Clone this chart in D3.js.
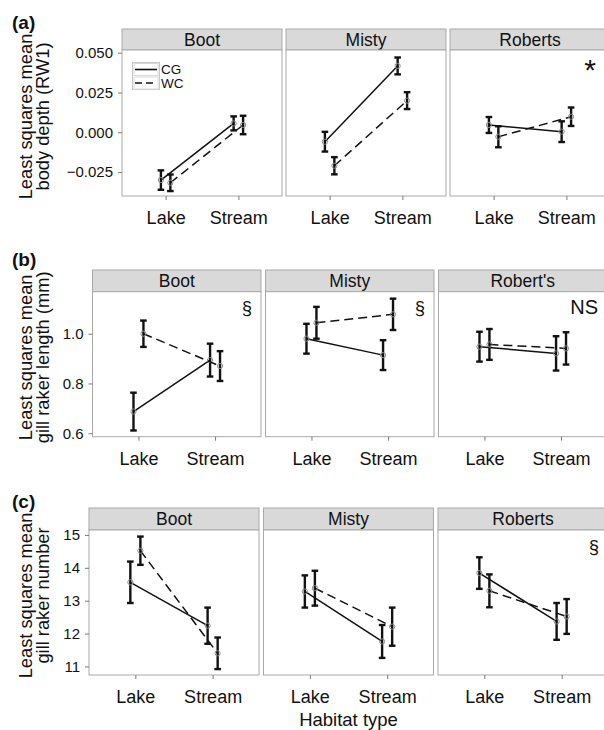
<!DOCTYPE html>
<html><head><meta charset="utf-8">
<script src="https://cdn.jsdelivr.net/npm/d3@7"></script>
<style>body{margin:0;background:#fff;} svg{display:block;font-family:"Liberation Sans",Arial,sans-serif;}</style>
</head><body><svg id="c" width="604" height="730"></svg>
<script>
const lakes = ["Boot", "Misty", "Roberts"];
const habitats = ["Lake", "Stream"];
const groups = ["CG", "WC"];
const depthStrips = ["Boot", "Misty", "Roberts"];
const lengthStrips = ["Boot", "Misty", "Robert's"];
const numberStrips = ["Boot", "Misty", "Roberts"];

// order: Boot-Lake, Boot-Stream, Misty-Lake, Misty-Stream, Roberts-Lake, Roberts-Stream
const depthCGMean = [-0.0300, 0.0056, -0.0059, 0.0417, 0.0046, 0.0004];
const depthCGErr  = [0.0061, 0.0044, 0.0062, 0.0053, 0.0050, 0.0065];
const depthWCMean = [-0.0317, 0.0046, -0.0210, 0.0199, -0.0028, 0.0098];
const depthWCErr  = [0.0052, 0.0058, 0.0054, 0.0053, 0.0066, 0.0058];

const lengthCGMean = [0.687, 0.894, 0.980, 0.914, 0.948, 0.921];
const lengthCGErr  = [0.076, 0.066, 0.060, 0.060, 0.060, 0.069];
const lengthWCMean = [1.000, 0.870, 1.044, 1.078, 0.957, 0.941];
const lengthWCErr  = [0.053, 0.060, 0.064, 0.063, 0.062, 0.065];

const numberCGMean = [13.56, 12.24, 13.28, 11.76, 13.84, 12.37];
const numberCGErr  = [0.63, 0.55, 0.49, 0.50, 0.48, 0.56];
const numberWCMean = [14.52, 11.40, 13.38, 12.21, 13.30, 12.52];
const numberWCErr  = [0.43, 0.48, 0.53, 0.58, 0.50, 0.53];

const depthTicks = [-0.025, 0, 0.025, 0.05];
const lengthTicks = [0.6, 0.8, 1.0];
const numberTicks = [11, 12, 13, 14, 15];
const depthSig = ["", "", "*"];
const lengthSig = ["§", "§", "NS"];
const numberSig = ["", "", "§"];

const rows = [
  {tag: "(a)", tagY: 29, strips: depthStrips, cg: [depthCGMean, depthCGErr], wc: [depthWCMean, depthWCErr],
   domain: [-0.0400, 0.0517], ticks: depthTicks, fmt: d3.format(".3f"), sig: depthSig,
   title: ["Least squares mean", "body depth (RW1)"], legend: true,
   left: 122, width: 160, gap: 4, stripTop: 29, top: 50, bottom: 196},
  {tag: "(b)", tagY: 266, strips: lengthStrips, cg: [lengthCGMean, lengthCGErr], wc: [lengthWCMean, lengthWCErr],
   domain: [0.586, 1.169], ticks: lengthTicks, fmt: d3.format(".1f"), sig: lengthSig,
   title: ["Least squares mean", "gill raker length (mm)"], legend: false,
   left: 92.5, width: 168.5, gap: 4.5, stripTop: 270, top: 291.7, bottom: 436.7},
  {tag: "(c)", tagY: 508, strips: numberStrips, cg: [numberCGMean, numberCGErr], wc: [numberWCMean, numberWCErr],
   domain: [10.74, 15.15], ticks: numberTicks, fmt: d3.format("d"), sig: numberSig,
   title: ["Least squares mean", "gill raker number"], legend: false,
   left: 89, width: 170, gap: 4.5, stripTop: 508, top: 530, bottom: 675}
];

const svg = d3.select("#c");
const ink = "#111";
const frame = "#a9a9a9";

rows.forEach(row => {
  const g = svg.append("g");
  const y = d3.scaleLinear().domain(row.domain).range([row.bottom, row.top]);

  // panel tag
  g.append("text").attr("x", 12).attr("y", row.tagY).attr("font-size", 19).attr("font-weight", "bold")
    .attr("fill", ink).text(row.tag);

  // y title
  const cy = (row.stripTop + row.bottom) / 2 + 4;
  row.title.forEach((t, k) => {
    g.append("text").attr("transform", `translate(${31.5 + k * 17},${cy}) rotate(-90)`)
      .attr("text-anchor", "middle").attr("font-size", 18.3).attr("fill", ink).text(t);
  });

  lakes.forEach((lake, i) => {
    const x0 = row.left + i * (row.width + row.gap), x1 = x0 + row.width;
    const x = d3.scalePoint().domain(habitats).range([x0, x1]).padding(0.6);
    const off = 0.065 * x.step();
    const pg = g.append("g");

    // strip
    pg.append("rect").attr("x", x0).attr("y", row.stripTop).attr("width", row.width)
      .attr("height", row.top - row.stripTop).attr("fill", "#d9d9d9").attr("stroke", frame).attr("stroke-width", 1);
    pg.append("text").attr("x", (x0 + x1) / 2).attr("y", (row.stripTop + row.top) / 2 + 6)
      .attr("text-anchor", "middle").attr("font-size", 17.5).attr("fill", ink).text(row.strips[i]);
    // panel
    pg.append("rect").attr("x", x0).attr("y", row.top).attr("width", row.width)
      .attr("height", row.bottom - row.top).attr("fill", "#fff").attr("stroke", frame).attr("stroke-width", 1);

    // x axis
    const xa = pg.append("g").attr("transform", `translate(0,${row.bottom})`)
      .call(d3.axisBottom(x).tickSize(4).tickPadding(11.2));
    xa.select(".domain").remove();
    xa.selectAll("line").attr("stroke", "#7a7a7a");
    xa.selectAll("text").attr("font-size", 18).attr("fill", ink).attr("font-family", "Liberation Sans, Arial, sans-serif");

    if (i === 0) {
      const ya = pg.append("g").attr("transform", `translate(${x0},0)`)
        .call(d3.axisLeft(y).tickValues(row.ticks).tickFormat(row.fmt).tickSize(4).tickPadding(5));
      ya.select(".domain").remove();
      ya.selectAll("line").attr("stroke", "#7a7a7a");
      ya.selectAll("text").attr("font-size", 15).attr("fill", ink).attr("font-family", "Liberation Sans, Arial, sans-serif");
    }

    const series = [
      {name: "CG", mean: row.cg[0], err: row.cg[1], dx: -off, dash: null},
      {name: "WC", mean: row.wc[0], err: row.wc[1], dx: off, dash: "9,5"}
    ];
    series.forEach(s => {
      const pts = habitats.map((h, j) => ({
        x: x(h) + s.dx, m: s.mean[i * 2 + j], e: s.err[i * 2 + j]
      }));
      // error bars
      pts.forEach(p => {
        const eg = pg.append("g").attr("stroke", ink).attr("stroke-width", 2.4);
        eg.append("line").attr("x1", p.x).attr("x2", p.x).attr("y1", y(p.m - p.e)).attr("y2", y(p.m + p.e));
        [p.m - p.e, p.m + p.e].forEach(v => {
          eg.append("line").attr("x1", p.x - 3.3).attr("x2", p.x + 3.3).attr("y1", y(v)).attr("y2", y(v));
        });
      });
      pg.append("path").datum(pts)
        .attr("d", d3.line().x(d => d.x).y(d => y(d.m)))
        .attr("fill", "none").attr("stroke", ink).attr("stroke-width", 1.5)
        .attr("stroke-dasharray", s.dash);
      pg.selectAll(null).data(pts).enter().append("circle")
        .attr("cx", d => d.x).attr("cy", d => y(d.m)).attr("r", 2.6)
        .attr("fill", "none").attr("stroke", "#8a8a8a").attr("stroke-width", 1);
    });

    // significance annotation
    const sig = row.sig[i];
    if (sig) {
      if (sig === "*") {
        pg.append("text").attr("x", x1 - 20).attr("y", row.top + 30).attr("text-anchor", "middle")
          .attr("font-size", 30).attr("fill", ink).text(sig);
      } else {
        pg.append("text").attr("x", x1 - 9).attr("y", row.top + 22.7).attr("text-anchor", "end")
          .attr("font-size", sig === "NS" ? 20 : 18.5).attr("fill", ink).text(sig);
      }
    }

    // legend
    if (row.legend && i === 0) {
      const lx = x0 + 10.5, ly = row.top + 12.5, kw = 27, kh = 13;
      const lg = pg.append("g");
      lg.append("rect").attr("x", lx).attr("y", ly).attr("width", kw).attr("height", kh * 2 + 1)
        .attr("fill", "#fff").attr("stroke", "#c8c8c8");
      groups.forEach((gname, k) => {
        const yy = ly + 0.5 + k * (kh + 0.5);
        lg.append("rect").attr("x", lx + 1.5).attr("y", yy + 0.5).attr("width", kw - 3).attr("height", kh - 1)
          .attr("fill", "#fff").attr("stroke", "#dadada");
        lg.append("line").attr("x1", lx + 2.5).attr("x2", lx + kw - 2.5)
          .attr("y1", yy + kh / 2).attr("y2", yy + kh / 2)
          .attr("stroke", ink).attr("stroke-width", 1.6).attr("stroke-dasharray", k === 1 ? "7,4" : null);
        lg.append("text").attr("x", lx + kw + 1.5).attr("y", yy + kh / 2 + 4.8)
          .attr("font-size", 13.5).attr("fill", ink).text(gname);
      });
    }
  });
});

// x axis title
const last = rows[2];
svg.append("text").attr("x", last.left + (3 * last.width + 2 * last.gap) / 2).attr("y", 725.5)
  .attr("text-anchor", "middle").attr("font-size", 18.5).attr("fill", ink).text("Habitat type");
</script></body></html>
